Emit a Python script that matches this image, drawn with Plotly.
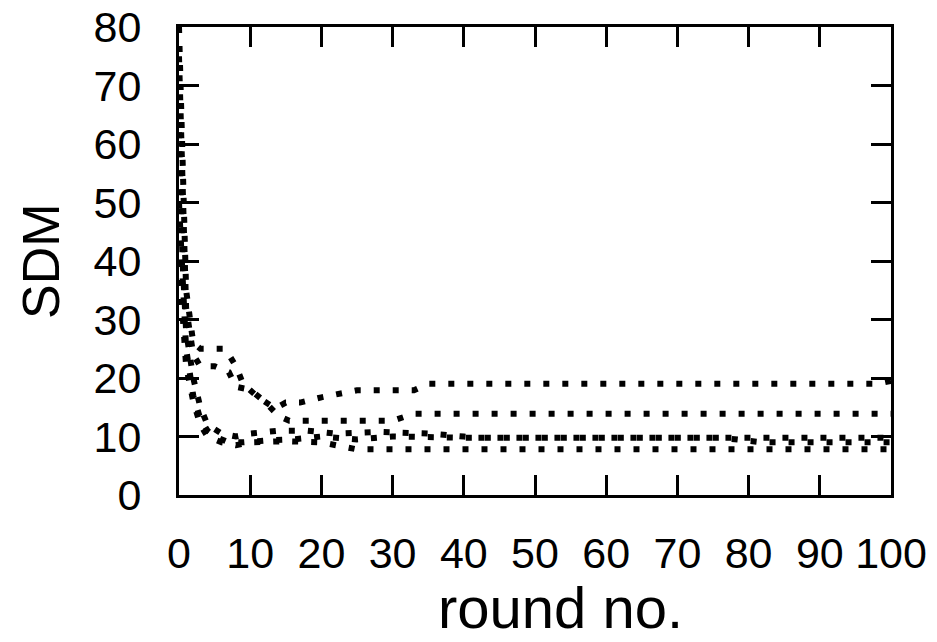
import plotly.graph_objects as go

# Key points (round no., SDM)
a_x = [0, 0.5, 1, 2, 3, 5, 6.5, 8, 9, 11, 13.5, 15, 17, 20, 22.5, 25, 33, 35, 98, 100]
a_y = [80, 55, 35, 26, 25, 25, 25, 22, 19, 16.8, 14.8, 15.8, 15.8, 16.7, 17.2, 17.9, 17.9, 19, 19, 19.5]

b_x = [0, 0.5, 1, 2, 3, 5, 7, 8, 10, 12, 14, 15.5, 30, 33, 100]
b_y = [75, 50, 32, 24, 22, 22, 21, 18.5, 18, 16, 13.5, 12.7, 12.7, 13.9, 13.9]

c_x = [0, 0.5, 1, 2, 3, 4, 6, 8, 10, 14, 18, 22, 28, 35, 40, 42, 100]
c_y = [62, 40, 28, 20, 15, 12, 10.5, 10, 10.5, 11, 11, 10.5, 10.8, 10.5, 10, 9.8, 9.8]

d_x = [0, 0.5, 1, 2, 3, 4, 5, 7, 9, 12, 16, 20, 25, 30, 35, 40, 76, 82, 100]
d_y = [50, 35, 25, 17, 13, 11, 10, 9, 9, 9.3, 9.5, 10, 9.5, 10, 9.8, 9.8, 9.8, 9, 9]

e_x = [0, 0.5, 1, 2, 3, 4, 6, 8, 10, 15, 20, 25, 100]
e_y = [40, 30, 22, 16, 12, 10, 9, 8.5, 9, 9.2, 9, 7.8, 7.8]

x_ticks = [0, 10, 20, 30, 40, 50, 60, 70, 80, 90, 100]
y_ticks = [0, 10, 20, 30, 40, 50, 60, 70, 80]

fig = go.Figure()
for xs, ys in [(a_x, a_y), (b_x, b_y), (c_x, c_y), (d_x, d_y), (e_x, e_y)]:
    fig.add_trace(go.Scatter(x=xs, y=ys, mode="lines",
                             line=dict(color="black", width=6, dash="6px,13px"),
                             showlegend=False))

font = "Liberation Sans, Arial, Helvetica, sans-serif"
axis_common = dict(showgrid=False, zeroline=False, showline=True, linecolor="black",
                   linewidth=3, mirror="ticks", ticks="inside", ticklen=20,
                   tickwidth=3, tickcolor="black", automargin=False,
                   tickfont=dict(family=font, size=43, color="black"))

fig.update_layout(
    width=937, height=642,
    margin=dict(l=179, r=46, t=27, b=147),
    paper_bgcolor="white", plot_bgcolor="white",
    xaxis=dict(range=[0, 100], tickvals=x_ticks, ticklabelstandoff=18, **axis_common),
    yaxis=dict(range=[0, 80], tickvals=y_ticks, ticklabelstandoff=26, **axis_common),
    annotations=[
        dict(text="round no.", xref="paper", yref="paper", x=0.5365, y=-0.2400,
             xanchor="center", yanchor="middle", showarrow=False,
             font=dict(family=font, size=58, color="black")),
        dict(text="SDM", xref="paper", yref="paper", x=-0.1938, y=0.5,
             xanchor="center", yanchor="middle", showarrow=False, textangle=-90,
             font=dict(family=font, size=52, color="black")),
    ],
)

fig.write_html("out.html", config={"displayModeBar": False},
               post_script="document.body.style.margin='0';document.body.style.overflow='hidden';")
